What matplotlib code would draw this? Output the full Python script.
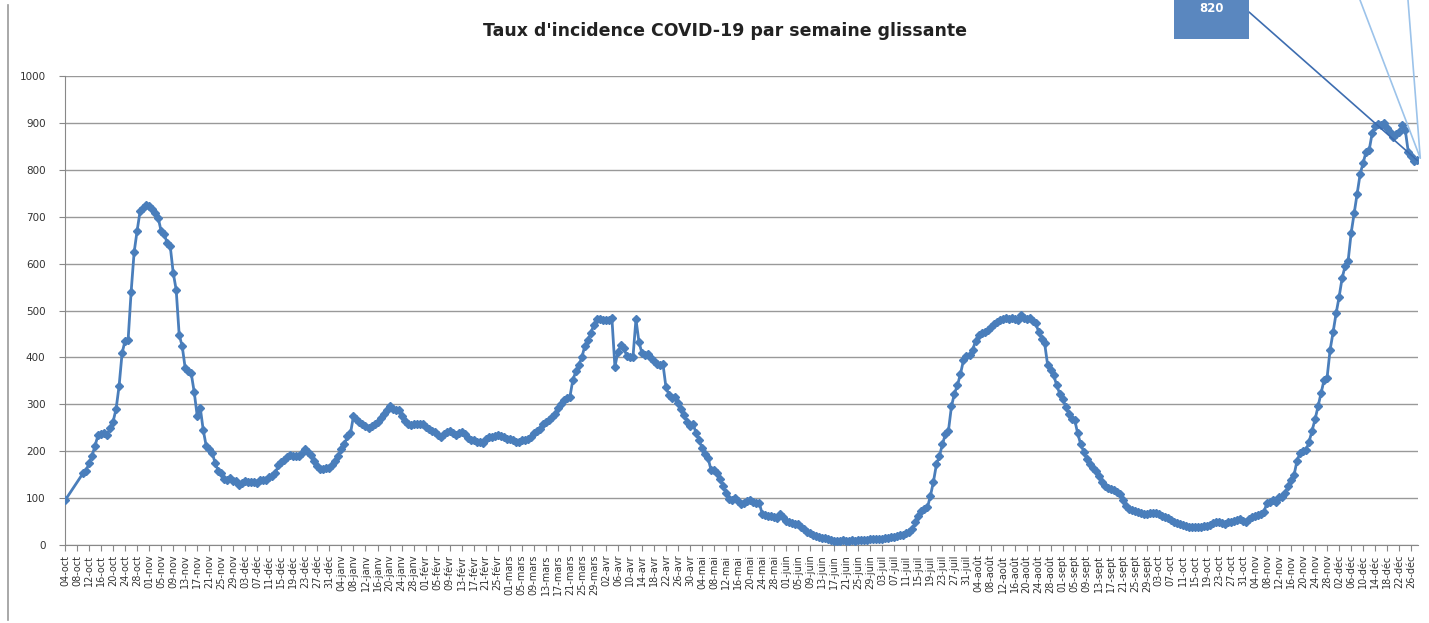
import matplotlib
matplotlib.use("Agg")
import matplotlib.pyplot as plt
import matplotlib.dates as mdates
from matplotlib.patches import Rectangle
from matplotlib.lines import Line2D
import pandas as pd

title = "Taux d'incidence COVID-19 par semaine glissante"
mois = ["janv", "févr", "mars", "avr", "mai", "juin", "juil", "août", "sept", "oct", "nov", "déc"]

# premier point isolé, puis série quotidienne à partir du 10-oct-2020
first_date = "2020-10-04"
first_value = 95
daily_start = "2020-10-10"

oct_2020 = [153, 158, 175, 190, 212, 234, 236, 238, 234, 250, 263, 290, 339, 409, 436, 437,
            539, 624, 670, 712, 719, 724]
nov_2020 = [723, 716, 708, 698, 669, 664, 643, 638, 581, 544, 448, 424, 377, 370, 366, 326,
            275, 293, 245, 211, 204, 196, 174, 158, 153, 140, 139, 142, 136, 136]
dec_2020 = [128, 132, 136, 135, 135, 134, 133, 138, 138, 139, 144, 148, 153, 170, 177, 182,
            187, 191, 190, 190, 190, 196, 204, 199, 192, 180, 168, 161, 163, 164, 165]
jan_2021 = [170, 179, 190, 204, 215, 232, 238, 275, 268, 263, 258, 253, 249, 254, 259, 263,
            270, 280, 287, 296, 289, 288, 288, 274, 264, 258, 255, 257, 258, 259, 258]
feb_2021 = [252, 247, 244, 241, 234, 231, 236, 242, 244, 238, 235, 238, 242, 237, 228, 223,
            223, 220, 219, 218, 225, 231, 231, 233, 235, 232, 230, 227]
mar_2021 = [226, 223, 219, 220, 223, 223, 225, 230, 238, 243, 248, 258, 263, 266, 272, 280,
            292, 300, 310, 313, 315, 352, 370, 384, 400, 425, 437, 452, 470, 481, 482]
apr_2021 = [480, 479, 479, 483, 380, 412, 426, 419, 402, 400, 400, 481, 433, 409, 406, 408,
            399, 392, 385, 383, 385, 336, 320, 313, 315, 303, 289, 278, 262, 254]
may_2021 = [259, 238, 224, 206, 195, 185, 160, 159, 154, 140, 125, 110, 98, 96, 100, 93,
            88, 90, 94, 95, 91, 90, 90, 67, 64, 62, 61, 59, 57, 66, 60]
jun_2021 = [52, 48, 46, 45, 44, 39, 34, 28, 25, 22, 20, 18, 15, 14, 12, 10,
            9, 9, 9, 10, 9, 9, 10, 9, 10, 10, 10, 11, 12, 12]
jul_2021 = [12, 12, 13, 14, 15, 16, 18, 19, 21, 22, 25, 28, 34, 48, 62, 72,
            77, 80, 105, 135, 172, 190, 215, 237, 244, 296, 323, 341, 365, 394, 403]
aug_2021 = [406, 415, 435, 448, 452, 455, 458, 465, 471, 476, 479, 481, 483, 481, 483, 481,
            479, 490, 483, 481, 483, 478, 473, 455, 440, 430, 384, 373, 362, 341, 323]
sep_2021 = [312, 295, 280, 268, 267, 238, 215, 199, 183, 172, 164, 157, 147, 134, 125, 122,
            119, 117, 113, 108, 95, 84, 77, 74, 72, 70, 69, 67, 67, 68]
oct_2021 = [69, 68, 66, 62, 59, 57, 53, 50, 47, 45, 42, 41, 39, 38, 38, 38,
            39, 40, 41, 42, 46, 50, 48, 46, 45, 48, 50, 52, 53, 55, 52]
nov_2021 = [50, 56, 60, 62, 65, 67, 71, 90, 92, 96, 92, 102, 103, 110, 126, 139,
            149, 180, 196, 201, 203, 220, 244, 268, 296, 325, 352, 357, 416, 454]
dec_2021 = [494, 529, 569, 595, 606, 665, 707, 748, 791, 815, 839, 842, 878, 893, 897, 895,
            899, 889, 880, 871, 876, 881, 896, 885, 839, 830, 819, 820]

daily = (oct_2020 + nov_2020 + dec_2020 + jan_2021 + feb_2021 + mar_2021 + apr_2021
         + may_2021 + jun_2021 + jul_2021 + aug_2021 + sep_2021 + oct_2021 + nov_2021 + dec_2021)
dates = [pd.Timestamp(first_date)] + list(pd.date_range(daily_start, periods=len(daily), freq="D"))
values = [first_value] + daily

tick_dates = pd.date_range("2020-10-04", "2021-12-26", freq="4D")
tick_labels = [f"{d.day:02d}-{mois[d.month - 1]}" for d in tick_dates]

W, H = 1429, 623
fig = plt.figure(figsize=(W / 100, H / 100), dpi=100)
ax = fig.add_axes([65 / W, 1 - 545 / H, (1418 - 65) / W, (545 - 76) / H])

blue = "#4A7EBB"
ax.plot(dates, values, color=blue, lw=2, marker="D", ms=4.5, mfc=blue, mec=blue, zorder=3)

ax.set_ylim(0, 1000)
ax.set_yticks(range(0, 1001, 100))
ax.set_xlim(pd.Timestamp(first_date), dates[-1] + pd.Timedelta(hours=6))
ax.set_xticks(tick_dates)
ax.set_xticklabels(tick_labels, rotation=90, fontsize=7, color="#333333")
ax.tick_params(axis="y", labelsize=7.5, labelcolor="#333333", length=4, color="#888888", pad=10)
ax.tick_params(axis="x", length=4, color="#888888", pad=3)
ax.grid(axis="y", color="#999999", lw=1)
ax.set_axisbelow(True)
for side in ["top", "right"]:
    ax.spines[side].set_visible(False)
for side in ["left", "bottom"]:
    ax.spines[side].set_color("#888888")

fig.text(725 / W, 1 - 31 / H, title, ha="center", va="center", fontsize=12.5,
         fontweight="bold", color="#222222")

# étiquette de la dernière valeur
fig.patches.append(Rectangle((1174 / W, 1 - 39 / H), 75 / W, 39 / H, transform=fig.transFigure,
                             facecolor="#5A87BF", edgecolor="none"))
fig.text(1211 / W, 1 - 8 / H, f"{values[-1]}", ha="center", va="center", fontsize=8.5,
         fontweight="bold", color="white")
ax.annotate("", xy=(dates[-1], values[-1]), xytext=(1249 / W, 1 - 12 / H),
            textcoords="figure fraction",
            arrowprops=dict(arrowstyle="-", color="#3D6DB0", lw=1.2, shrinkA=0, shrinkB=0),
            annotation_clip=False)
for xt in (1360, 1408):
    ax.annotate("", xy=(dates[-1] + pd.Timedelta(days=1), values[-1] + 5), xytext=(xt / W, 1.0),
                textcoords="figure fraction",
                arrowprops=dict(arrowstyle="-", color="#9CC3EA", lw=1.2, shrinkA=0, shrinkB=0),
                annotation_clip=False)

fig.lines.append(Line2D([8 / W, 8 / W], [1 - 620 / H, 1 - 5 / H], transform=fig.transFigure,
                        color="#999999", lw=1.2))

fig.savefig("out.png", dpi=100)
